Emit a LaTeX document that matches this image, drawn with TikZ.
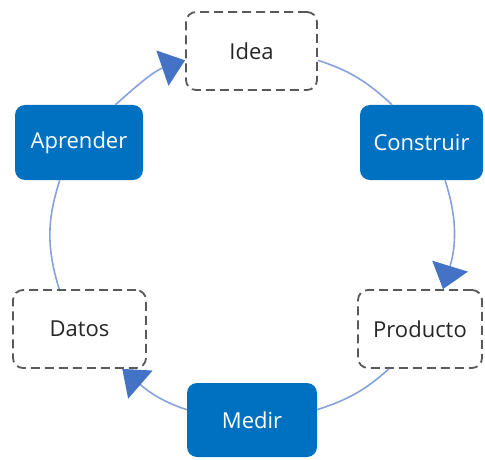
\documentclass[tikz,border=0pt]{standalone}
\usepackage{fontspec}
\setmainfont{Open Sans}
\usetikzlibrary{arrows.meta}
\definecolor{boxblue}{HTML}{0070C0}
\definecolor{linkblue}{HTML}{86A2DC}
\definecolor{tipblue}{HTML}{4472C4}
\definecolor{dashgray}{HTML}{595959}
\definecolor{txtgray}{HTML}{262626}
\begin{document}
\begin{tikzpicture}[x=1pt,y=1pt,
  base/.style={rectangle, rounded corners=10pt, inner sep=0pt, font=\fontsize{22}{26}\selectfont},
  solidbox/.style={base, fill=boxblue, text=white},
  dashbox/.style={base, draw=dashgray, line width=1.8pt, dash pattern=on 9pt off 5pt, text=txtgray},
  link/.style={draw=linkblue, line width=1.6pt},
  tipped/.style={link, -{Triangle[length=24pt,width=37pt,fill=tipblue,color=tipblue]}}
]
\useasboundingbox (0,0) rectangle (485,459);
\node[dashbox, minimum width=131pt, minimum height=78pt] (idea) at (251.5,408) {Idea};
\node[solidbox, minimum width=123pt, minimum height=75pt] (construir) at (421.5,316.5) {Construir};
\node[dashbox, minimum width=124pt, minimum height=78pt] (producto) at (420,130) {Producto};
\node[solidbox, minimum width=130pt, minimum height=74pt] (medir) at (252,39) {Medir};
\node[dashbox, minimum width=133pt, minimum height=78pt] (datos) at (79.5,130) {Datos};
\node[solidbox, minimum width=128pt, minimum height=75pt] (aprender) at (79,316.5) {Aprender};

\draw[link] (idea.-8) to[out=-18,in=137] (construir.128);
\draw[tipped] (construir.-58) to[out=-72,in=73] (producto.60);
\draw[link] (producto.232) to[out=222,in=18] (medir.9);
\draw[tipped] (medir.171) to[out=162,in=-41] (datos.-43);
\draw[link] (datos.117) to[out=107,in=252] (aprender.243);
\draw[tipped] (aprender.46) to[out=42,in=199] (idea.188);
\end{tikzpicture}
\end{document}
